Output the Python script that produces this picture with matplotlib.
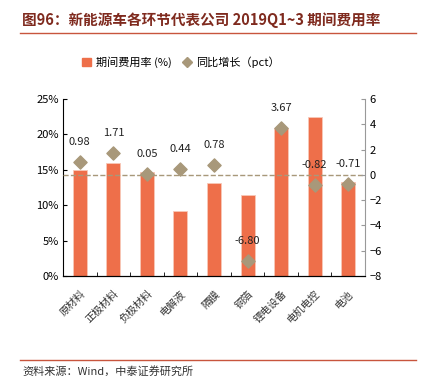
import matplotlib
matplotlib.use("Agg")
import matplotlib.pyplot as plt
from matplotlib.lines import Line2D
from matplotlib.patches import Patch
import numpy as np

plt.rcParams['font.family'] = ['Noto Sans CJK SC', 'DejaVu Sans']

# data
categories = ['原材料', '正极材料', '负极材料', '电解液', '隔膜', '铜箔', '锂电设备', '电机电控', '电池']
expense_rate = [15.0, 15.9, 14.7, 9.2, 13.2, 11.4, 20.9, 22.4, 13.3]   # %
yoy_change = [0.98, 1.71, 0.05, 0.44, 0.78, -6.80, 3.67, -0.82, -0.71]  # pct

bar_color = '#EE6F4A'
dot_color = '#A8987A'

fig = plt.figure(figsize=(4.21, 3.76), dpi=100)

# title and header rule
fig.text(22 / 421, 1 - 20 / 376, '图96：新能源车各环节代表公司 2019Q1~3 期间费用率',
         fontsize=10.5, fontweight='bold', color='#7F2A1E', va='center', ha='left')
fig.add_artist(Line2D([20 / 421, 416 / 421], [1 - 33 / 376] * 2, color='#C8553D', lw=1.0))

# footer
fig.add_artist(Line2D([20 / 421, 416 / 421], [1 - 360 / 376] * 2, color='#C8553D', lw=1.0))
fig.text(22 / 421, 1 - 371 / 376, '资料来源：Wind，中泰证券研究所', fontsize=8,
         style='italic', color='#333333', va='center', ha='left')

ax = fig.add_axes([63 / 421, 1 - 276 / 376, 302 / 421, 177 / 376])
x = np.arange(len(categories))
ax.bar(x, expense_rate, width=0.42, color=bar_color, edgecolor='#F8C8B8', linewidth=0.6, zorder=2)
ax.set_xlim(-0.5, len(categories) - 0.5)
ax.set_ylim(0, 25)
ax.set_yticks(range(0, 26, 5))
ax.set_yticklabels([f'{v}%' for v in range(0, 26, 5)], fontsize=8)
ax.set_xticks(x)
ax.set_xticklabels(categories, rotation=45, ha='right', rotation_mode='anchor',
                   fontsize=7.5, color='#333333')
ax.tick_params(axis='x', length=0, pad=9)
ax.set_xticks(np.arange(0.5, len(categories) - 0.5), minor=True)
ax.tick_params(axis='x', which='minor', direction='in', length=3)
ax.tick_params(axis='y', direction='in', length=3, pad=3)
ax.spines['top'].set_visible(False)
ax.spines['right'].set_visible(False)

ax2 = ax.twinx()
ax2.set_ylim(-8, 6)
ax2.set_yticks(range(-8, 7, 2))
ax2.tick_params(axis='y', labelsize=8, direction='in', length=3, color='#999999')
ax2.axhline(0, color=dot_color, lw=1.0, ls='--', zorder=1)
ax2.scatter(x, yoy_change, marker='D', s=45, color=dot_color, zorder=3)
for xi, v in zip(x, yoy_change):
    ax2.annotate(f'{v:.2f}', (xi, v), xytext=(0, 11), textcoords='offset points',
                 ha='center', va='bottom', fontsize=8, color='#222222')
ax2.spines['top'].set_visible(False)
ax2.spines['left'].set_visible(False)
ax2.spines['right'].set_color('#999999')

handles = [Patch(color=bar_color, label='期间费用率 (%)'),
           Line2D([], [], marker='D', ls='none', color=dot_color, markersize=5, label='同比增长（pct）')]
fig.legend(handles=handles, loc='center', bbox_to_anchor=(0.43, 1 - 62 / 376), ncol=2,
           frameon=False, fontsize=8, handlelength=0.8, handletextpad=0.4, columnspacing=1.0)

fig.savefig('out.png', dpi=100)
